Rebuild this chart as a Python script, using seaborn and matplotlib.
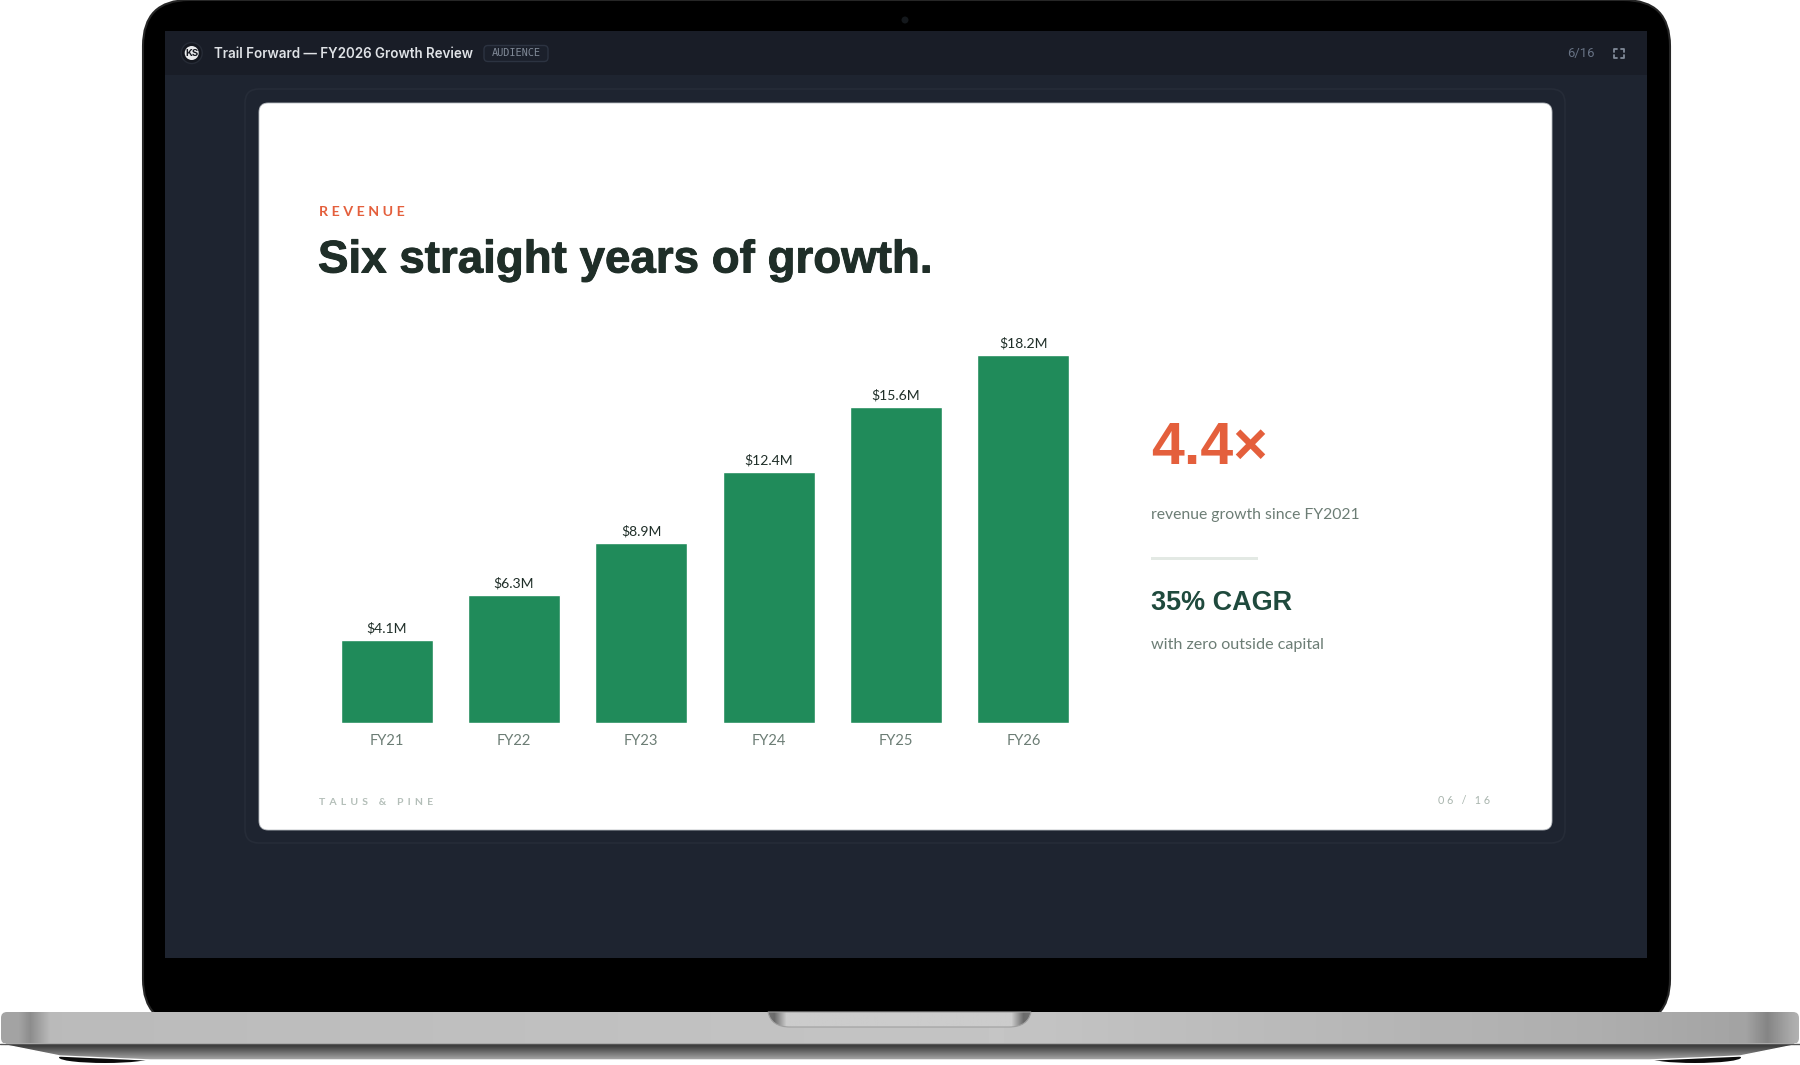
import numpy as np
import pandas as pd
import matplotlib
matplotlib.use("Agg")
import matplotlib.pyplot as plt
import matplotlib.patheffects as pe
from matplotlib.path import Path
from matplotlib.patches import FancyBboxPatch, Rectangle, Circle, Ellipse, Polygon, PathPatch
import seaborn as sns

# chart values
years = ["FY21", "FY22", "FY23", "FY24", "FY25", "FY26"]
revenue = [4.1, 6.3, 8.9, 12.4, 15.6, 18.2]
bar_labels = ["$4.1M", "$6.3M", "$8.9M", "$12.4M", "$15.6M", "$18.2M"]

GREEN = "#208b5a"
ORANGE = "#e45f3c"
INK = "#1f2e28"
DEEP = "#1f4a3d"
MUTED = "#6c7d75"
FAINT = "#b4bfb9"
W, H = 1800, 1065

sns.set_theme(style="white")
LATO = ["Lato", "DejaVu Sans"]
plt.rcParams["font.family"] = LATO

THIN = "\u2009"
HEAVY = [pe.withStroke(linewidth=0.7, foreground=INK)]


def px(size):
    return size * 0.72


def rbox(ax, x0, y0, x1, y1, r, **kw):
    p = FancyBboxPatch((x0 + r, y0 + r), x1 - x0 - 2 * r, y1 - y0 - 2 * r,
                       boxstyle="round,pad=%g,rounding_size=%g" % (r, r), **kw)
    ax.add_patch(p)
    return p


fig = plt.figure(figsize=(18, 10.65), dpi=100)
bg = fig.add_axes([0, 0, 1, 1])
bg.set_axis_off()

# shadow under the base
dark = np.linspace(0.16, 0.66, 32).reshape(-1, 1)
im = bg.imshow(dark, extent=(0, W, 1060, 1043), cmap="gray", vmin=0, vmax=1, aspect="auto", zorder=1)
under = Polygon([(5, 1043), (1795, 1043), (1795, 1045), (1740, 1056), (1650, 1060), (150, 1060), (60, 1056), (5, 1045)],
                closed=True, transform=bg.transData, facecolor="none")
bg.add_patch(under)
im.set_clip_path(under)
for cx in (105, 1695):
    bg.add_patch(Ellipse((cx, 1057.5), 92, 11, facecolor="#0b0b0b", edgecolor="none", zorder=0.5))

# the aluminium base
shade = np.interp(np.arange(1800), [0, 18, 30, 50, 1000, 1600, 1745, 1767, 1790, 1800],
                  [0.64, 0.64, 0.55, 0.73, 0.77, 0.68, 0.64, 0.52, 0.66, 0.7])
im2 = bg.imshow(shade.reshape(1, -1), extent=(0, W, 1043, 1012), cmap="gray", vmin=0, vmax=1, aspect="auto", zorder=2)
base = rbox(bg, 1, 1012, 1799, 1044, 6, facecolor="none", edgecolor="none", transform=bg.transData)
im2.set_clip_path(base)
bg.plot([0, W], [1043.5, 1043.5], color="#555555", lw=1, zorder=3)

# notch
notch_shade = np.interp(np.arange(768, 1032), [768, 774, 786, 1012, 1024, 1031], [0.45, 0.42, 0.8, 0.8, 0.42, 0.45])
im3 = bg.imshow(notch_shade.reshape(1, -1), extent=(768, 1031, 1028, 1012), cmap="gray", vmin=0, vmax=1, aspect="auto", zorder=3)
notch_path = Path([(768, 1012), (771, 1027), (790, 1027), (1009, 1027), (1028, 1027), (1031, 1012), (768, 1012)],
                  [Path.MOVETO, Path.CURVE3, Path.CURVE3, Path.LINETO, Path.CURVE3, Path.CURVE3, Path.CLOSEPOLY])
notch = PathPatch(notch_path, facecolor="none", edgecolor="#a0a0a0", lw=0.8, zorder=3.1)
bg.add_patch(notch)
im3.set_clip_path(notch)

# bezel: rounded at top and bottom, base sits over the lower edge
rbox(bg, 143, 0, 1670, 1025, 46, facecolor="#000000", edgecolor="#262626", lw=1.5, zorder=1.5)

# screen
bg.add_patch(Rectangle((165, 31), 1482, 927, facecolor="#1e2430", edgecolor="none", zorder=4))
bg.add_patch(Rectangle((165, 31), 1482, 44, facecolor="#191d27", edgecolor="none", zorder=4.1))
bg.add_patch(Circle((905, 20), 3.5, facecolor="#14181c", edgecolor="none", zorder=4))

# slide frame and white slide
rbox(bg, 245, 89, 1565, 843, 14, facecolor="#1e2430", edgecolor="#262c38", lw=1.2, zorder=4.2)
rbox(bg, 259, 103, 1552, 830, 9, facecolor="white", edgecolor="#b9bdc2", lw=0.6, zorder=4.3)

# top bar
T = 5
bg.add_patch(Circle((191.7, 53), 10.5, facecolor="#14171f", edgecolor="#262b36", lw=1, zorder=T))
bg.add_patch(Circle((191.7, 53), 7, facecolor="#e9eaec", edgecolor="none", zorder=T))
bg.text(191.7, 53.3, "KS", fontsize=px(9.5), fontweight="bold", family=["Inter"], color="#14171f",
        ha="center", va="center", zorder=T + 1)
bg.text(214, 58.3, "Trail Forward \u2014 FY2026 Growth Review", fontsize=px(13.4), fontweight="semibold",
        family=["Inter"], color="#dfe2e6", zorder=T)
rbox(bg, 484, 45.5, 548, 61.5, 4, facecolor="#1b202b", edgecolor="#2c3341", lw=1, zorder=T)
bg.text(516, 53.5, "AUDIENCE", fontsize=px(10.2), family=["DejaVu Sans Mono"], color="#818a98",
        ha="center", va="center", zorder=T + 1)
bg.text(1595, 53.3, "6/16", fontsize=px(13), family=["Roboto"], color="#687385",
        ha="right", va="center", zorder=T)
for cx, cy, dx, dy in [(1614, 49, 1, 1), (1623.5, 49, -1, 1), (1614, 57.5, 1, -1), (1623.5, 57.5, -1, -1)]:
    bg.plot([cx + 3 * dx, cx, cx], [cy, cy, cy + 3 * dy], color="#818a98", lw=1.3, zorder=T, solid_capstyle="round")

# slide text
bg.text(319, 216, (THIN * 2).join("REVENUE"), fontsize=px(14.3), fontweight="bold", family=LATO, color=ORANGE, zorder=T)
bg.text(318, 272.5, "Six straight years of growth.", fontsize=px(45.7), fontweight="bold",
        family=["Liberation Sans"], color=INK, zorder=T, path_effects=HEAVY)
bg.text(1151, 464, "4.4\u00d7", fontsize=px(59), fontweight="bold", family=["Liberation Sans"], color=ORANGE, zorder=T)
bg.text(1151, 518.5, "revenue growth since FY2021", fontsize=px(15.8), family=LATO, color=MUTED, zorder=T)
bg.add_patch(Rectangle((1151, 556.5), 107, 3, facecolor="#e3e9e4", edgecolor="none", zorder=T))
bg.text(1151, 610, "35% CAGR", fontsize=px(27), fontweight="bold", family=["Liberation Sans"], color=DEEP, zorder=T)
bg.text(1151, 649.5, "with zero outside capital", fontsize=px(16.1), family=LATO, color=MUTED, zorder=T)
bg.text(319, 805, (THIN * 3).join("TALUS & PINE"), fontsize=px(10.5), fontweight="bold", family=LATO, color=FAINT, zorder=T)
bg.text(1490, 804, (THIN * 2).join("06 / 16"), fontsize=px(10.8), family=LATO, color="#a9b5ae", ha="right", zorder=T)

bg.set_xlim(0, W)
bg.set_ylim(H, 0)

# bar chart, axes laid over the slide
left, right, bottom, top = 323.0, 1087.0, 722.5, 318.6
ax = fig.add_axes([left / W, 1 - bottom / H, (right - left) / W, (bottom - top) / H], zorder=2)
ax.patch.set_alpha(0)
df = pd.DataFrame({"year": years, "revenue": revenue})
sns.barplot(data=df, x="year", y="revenue", color=GREEN, saturation=1, width=0.722, ax=ax)
ax.set_xlim(-0.5, 5.5)
ax.set_ylim(0, 20)
ax.bar_label(ax.containers[0], labels=bar_labels, padding=4, fontsize=px(14), color=INK, family=LATO)
ax.set_xlabel("")
ax.set_ylabel("")
ax.set_yticks([])
ax.tick_params(axis="x", length=0, pad=8, labelsize=px(14.7), labelcolor=MUTED)
sns.despine(ax=ax, left=True, bottom=True)

fig.savefig("out.png", dpi=100)
